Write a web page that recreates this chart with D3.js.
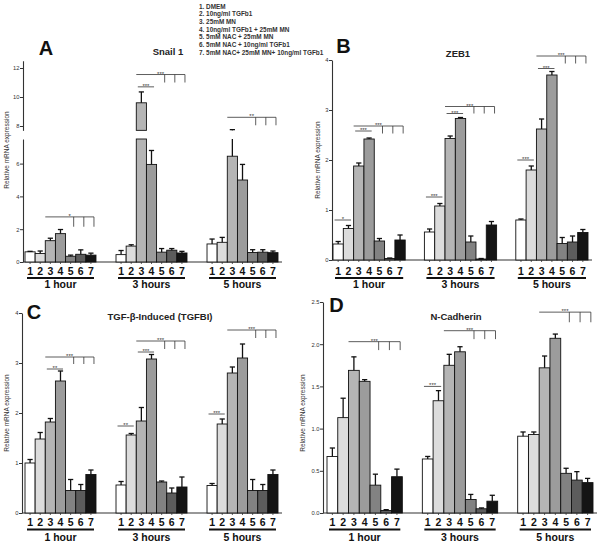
<!DOCTYPE html>
<html>
<head>
<meta charset="utf-8">
<script src="https://cdn.jsdelivr.net/npm/d3@7"></script>
<style>
body { margin: 0; background: #fff; }
</style>
</head>
<body>
<svg id="chart" width="604" height="547"></svg>
<script>
var groups = ["1 hour", "3 hours", "5 hours"];
var treatments = ["1", "2", "3", "4", "5", "6", "7"];
var legendLabels = [
    "1. DMEM",
    "2. 10ng/ml TGFb1",
    "3. 25mM MN",
    "4. 10ng/ml TGFb1 + 25mM MN",
    "5. 5mM NAC + 25mM MN",
    "6. 5mM NAC + 10ng/ml TGFb1",
    "7. 5mM NAC+ 25mM MN+ 10ng/ml TGFb1"
];

// Snail 1 (panel A)
var snailMean = [
    [0.62, 0.52, 1.3, 1.73, 0.35, 0.47, 0.42],
    [0.45, 0.97, 9.6, 5.95, 0.6, 0.72, 0.55],
    [1.1, 1.2, 6.45, 5.0, 0.58, 0.6, 0.57]
];
var snailErr = [
    [0.03, 0.15, 0.15, 0.25, 0.07, 0.27, 0.12],
    [0.25, 0.08, 0.75, 0.85, 0.22, 0.1, 0.1],
    [0.3, 0.3, 1.3, 0.95, 0.17, 0.15, 0.1]
];
var snailSig = [
    {group: 0, from: 3, to: 7, at: 2.75, drop: 2.15, label: "*"},
    {group: 1, from: 3, to: 7, at: 11.55, drop: 11.0, label: "***"},
    {group: 1, from: 3, to: 4, at: 10.7, drop: null, label: "***"},
    {group: 2, from: 3, to: 7, at: 8.6, drop: 8.05, label: "**"}
];

// ZEB1 (panel B)
var zebMean = [
    [0.32, 0.63, 1.88, 2.42, 0.38, 0.03, 0.4],
    [0.56, 1.08, 2.43, 2.83, 0.36, 0.02, 0.7],
    [0.8, 1.8, 2.62, 3.7, 0.33, 0.36, 0.55]
];
var zebErr = [
    [0.05, 0.06, 0.06, 0.02, 0.05, 0.01, 0.1],
    [0.06, 0.05, 0.05, 0.02, 0.12, 0.01, 0.07],
    [0.02, 0.08, 0.2, 0.07, 0.12, 0.12, 0.06]
];
var zebSig = [
    {group: 0, from: 1, to: 2, at: 0.8, drop: null, label: "*"},
    {group: 0, from: 3, to: 4, at: 2.58, drop: null, label: "***"},
    {group: 0, from: 3, to: 7, at: 2.68, drop: 2.53, label: "***"},
    {group: 1, from: 1, to: 2, at: 1.26, drop: null, label: "***"},
    {group: 1, from: 3, to: 4, at: 2.93, drop: null, label: "***"},
    {group: 1, from: 3, to: 7, at: 3.07, drop: 2.93, label: "***"},
    {group: 2, from: 1, to: 2, at: 2.0, drop: null, label: "***"},
    {group: 2, from: 3, to: 4, at: 3.83, drop: null, label: "***"},
    {group: 2, from: 3, to: 7, at: 4.08, drop: 3.93, label: "***"}
];

// TGFBI (panel C)
var tgfbiMean = [
    [1.0, 1.48, 1.82, 2.64, 0.45, 0.45, 0.77],
    [0.56, 1.56, 1.84, 3.08, 0.62, 0.4, 0.52],
    [0.55, 1.78, 2.8, 3.1, 0.45, 0.45, 0.77]
];
var tgfbiErr = [
    [0.07, 0.13, 0.07, 0.2, 0.22, 0.12, 0.09],
    [0.07, 0.03, 0.27, 0.09, 0.02, 0.1, 0.2],
    [0.04, 0.1, 0.12, 0.28, 0.22, 0.12, 0.09]
];
var tgfbiSig = [
    {group: 0, from: 3, to: 4, at: 2.88, drop: null, label: "**"},
    {group: 0, from: 3, to: 7, at: 3.12, drop: 2.98, label: "***"},
    {group: 1, from: 1, to: 2, at: 1.74, drop: null, label: "**"},
    {group: 1, from: 3, to: 4, at: 3.22, drop: null, label: "***"},
    {group: 1, from: 3, to: 7, at: 3.44, drop: 3.28, label: "***"},
    {group: 2, from: 1, to: 2, at: 1.98, drop: null, label: "***"},
    {group: 2, from: 3, to: 7, at: 3.66, drop: 3.5, label: "***"}
];

// N-Cadherin (panel D)
var ncadMean = [
    [0.67, 1.13, 1.69, 1.56, 0.33, 0.03, 0.43],
    [0.64, 1.33, 1.75, 1.91, 0.16, 0.05, 0.14],
    [0.91, 0.93, 1.72, 2.07, 0.47, 0.39, 0.36]
];
var ncadErr = [
    [0.1, 0.23, 0.16, 0.02, 0.13, 0.01, 0.09],
    [0.03, 0.12, 0.13, 0.06, 0.06, 0.01, 0.07],
    [0.05, 0.03, 0.14, 0.05, 0.06, 0.1, 0.05]
];
var ncadSig = [
    {group: 0, from: 3, to: 7, at: 2.03, drop: 1.93, label: "***"},
    {group: 1, from: 1, to: 2, at: 1.5, drop: null, label: "***"},
    {group: 1, from: 3, to: 7, at: 2.16, drop: 2.06, label: "***"},
    {group: 2, from: 3, to: 7, at: 2.38, drop: 2.26, label: "***"}
];

var barColors = ["#ffffff", "#dcdcdc", "#b5b5b5", "#9c9c9c", "#828282", "#5c5c5c", "#141414"];
var font = "'Liberation Sans', Arial, Helvetica, sans-serif";

var svg = d3.select('#chart');
svg.append('rect').attr('width', 604).attr('height', 547).attr('fill', '#fff');

// legend
svg.append('g')
    .selectAll('text')
    .data(legendLabels)
    .enter()
    .append('text')
    .attr('x', 199)
    .attr('y', function(d, i) { return 8.5 + i * 7.7; })
    .text(function(d) { return d; })
    .style('font-family', font)
    .style('font-size', '6.4px')
    .style('font-weight', 'bold')
    .attr('fill', '#333')
;

var panels = [
    {letter: "A", letterX: 46, letterY: 55, title: "Snail 1", titleX: 168, titleY: 55,
     mean: snailMean, err: snailErr, sig: snailSig,
     xRange: [25, 278], pad: 0.22, axisX: 23,
     segments: [
         {domain: [0, 7.5], range: [262, 139], ticks: [0, 2, 4, 6]},
         {domain: [7.7, 12.5], range: [130.35, 60.75], ticks: [8, 10, 12]}
     ],
     fmt: d3.format('d'), yLabelX: 9, yLabelY: 150,
     digitY: 274.5, lineY: 277, groupY: 288},
    {letter: "B", letterX: 343.5, letterY: 53, title: "ZEB1", titleX: 458, titleY: 57,
     mean: zebMean, err: zebErr, sig: zebSig,
     xRange: [333, 588], pad: 0.21, axisX: 332,
     segments: [{domain: [0, 4], range: [260, 60], ticks: [0, 1, 2, 3, 4]}],
     fmt: d3.format('d'), yLabelX: 320, yLabelY: 160,
     digitY: 274.5, lineY: 277, groupY: 288},
    {letter: "C", letterX: 34, letterY: 319, title: "TGF-\u03b2-Induced (TGFBI)", titleX: 160, titleY: 320,
     mean: tgfbiMean, err: tgfbiErr, sig: tgfbiSig,
     xRange: [25, 278], pad: 0.22, axisX: 22,
     segments: [{domain: [0, 4], range: [513, 313], ticks: [0, 1, 2, 3, 4]}],
     fmt: d3.format('d'), yLabelX: 9, yLabelY: 413,
     digitY: 526, lineY: 528.5, groupY: 541},
    {letter: "D", letterX: 336.5, letterY: 312, title: "N-Cadherin", titleX: 456, titleY: 320,
     mean: ncadMean, err: ncadErr, sig: ncadSig,
     xRange: [327, 593], pad: 0.21, axisX: 323,
     segments: [{domain: [0, 2.5], range: [513, 302], ticks: [0, 0.5, 1, 1.5, 2, 2.5]}],
     fmt: d3.format('.1f'), yLabelX: 305, yLabelY: 413,
     digitY: 526, lineY: 528.5, groupY: 541}
];

panels.forEach(drawPanel);

function drawPanel(p) {
    var g = svg.append('g');
    var x0 = d3.scaleBand().domain(groups).range(p.xRange).paddingInner(p.pad);
    var x1 = d3.scaleBand().domain(treatments).range([0, x0.bandwidth()]);
    var bw = x1.bandwidth();

    p.segments.forEach(function(s) {
        s.scale = d3.scaleLinear().domain(s.domain).range(s.range);
    });
    var yOf = function(v) {
        var seg = p.segments[0];
        p.segments.forEach(function(s) { if (v >= s.domain[0]) seg = s; });
        return seg.scale(v);
    };
    var barX = function(gi, bi) { return x0(groups[gi]) + x1(treatments[bi]); };

    // y axes (panel A has a broken axis: one per segment)
    p.segments.forEach(function(s) {
        var ax = g.append('g')
            .attr('transform', 'translate(' + p.axisX + ',0)')
            .call(d3.axisLeft(s.scale).tickValues(s.ticks).tickSize(3).tickSizeOuter(0).tickFormat(p.fmt));
        ax.selectAll('text').style('font-family', font).style('font-size', '5.8px').attr('fill', '#333').attr('x', -3.5);
        ax.selectAll('line').attr('stroke', '#333');
        ax.select('.domain').attr('stroke', '#333').attr('stroke-width', 1.1);
    });

    // x baseline
    var zeroY = yOf(0);
    g.append('line')
        .attr('x1', p.axisX).attr('x2', p.xRange[1] + 4)
        .attr('y1', zeroY).attr('y2', zeroY)
        .attr('stroke', '#333').attr('stroke-width', 1.1);

    p.mean.forEach(function(row, gi) {
        row.forEach(function(m, bi) {
            var x = barX(gi, bi);
            var top = m + p.err[gi][bi];
            var cx = x + bw / 2;
            p.segments.forEach(function(s) {
                var lo = Math.max(0, s.domain[0]), hi = Math.min(m, s.domain[1]);
                if (hi > lo) {
                    g.append('rect')
                        .attr('x', x).attr('width', bw)
                        .attr('y', s.scale(hi)).attr('height', s.scale(lo) - s.scale(hi))
                        .attr('fill', barColors[bi]).attr('stroke', '#111').attr('stroke-width', 0.9);
                }
                var elo = Math.max(m, s.domain[0]), ehi = Math.min(top, s.domain[1]);
                if (ehi > elo) {
                    g.append('line')
                        .attr('x1', cx).attr('x2', cx)
                        .attr('y1', s.scale(elo)).attr('y2', s.scale(ehi))
                        .attr('stroke', '#111').attr('stroke-width', 1.3);
                }
            });
            g.append('line')
                .attr('x1', cx - 2.6).attr('x2', cx + 2.6)
                .attr('y1', yOf(top)).attr('y2', yOf(top))
                .attr('stroke', '#111').attr('stroke-width', 1.3);
            g.append('line')
                .attr('x1', cx).attr('x2', cx)
                .attr('y1', zeroY).attr('y2', zeroY + 2)
                .attr('stroke', '#333').attr('stroke-width', 0.8);
            g.append('text')
                .attr('x', cx).attr('y', p.digitY)
                .attr('text-anchor', 'middle')
                .text(treatments[bi])
                .style('font-family', font).style('font-size', '10.5px').style('font-weight', 'bold')
                .attr('fill', '#111');
        });
        var gx = x0(groups[gi]);
        g.append('rect')
            .attr('x', gx + 2).attr('width', x0.bandwidth() - 4)
            .attr('y', p.lineY).attr('height', 2)
            .attr('fill', '#111');
        g.append('text')
            .attr('x', gx + x0.bandwidth() / 2).attr('y', p.groupY)
            .attr('text-anchor', 'middle')
            .text(groups[gi])
            .style('font-family', font).style('font-size', '10.5px').style('font-weight', 'bold')
            .attr('fill', '#111');
    });

    // significance brackets
    p.sig.forEach(function(s) {
        var ly = yOf(s.at);
        var xa, xb;
        if (s.drop === null) {
            xa = barX(s.group, s.from - 1) + bw * 0.15;
            xb = barX(s.group, s.to - 1) + bw * 0.75;
        } else {
            xa = barX(s.group, s.from - 1);
            xb = barX(s.group, s.to - 1) + bw * 0.8;
        }
        g.append('line')
            .attr('x1', xa).attr('x2', xb).attr('y1', ly).attr('y2', ly)
            .attr('stroke', '#333').attr('stroke-width', 0.8);
        if (s.drop !== null) {
            [5, 6, 7].forEach(function(b) {
                var tx = barX(s.group, b - 1) + bw * 0.8;
                g.append('line')
                    .attr('x1', tx).attr('x2', tx).attr('y1', ly).attr('y2', yOf(s.drop))
                    .attr('stroke', '#333').attr('stroke-width', 0.8);
            });
        }
        g.append('text')
            .attr('x', (xa + xb) / 2).attr('y', ly + 1)
            .attr('text-anchor', 'middle')
            .text(s.label)
            .style('font-family', font).style('font-size', '6px')
            .attr('fill', '#333');
    });

    g.append('text')
        .attr('x', p.letterX).attr('y', p.letterY)
        .attr('text-anchor', 'middle')
        .text(p.letter)
        .style('font-family', font).style('font-size', '20px').style('font-weight', 'bold')
        .attr('fill', '#111');
    g.append('text')
        .attr('x', p.titleX).attr('y', p.titleY)
        .attr('text-anchor', 'middle')
        .text(p.title)
        .style('font-family', font).style('font-size', '9.5px').style('font-weight', 'bold')
        .attr('fill', '#222');
    g.append('text')
        .attr('transform', 'translate(' + p.yLabelX + ',' + p.yLabelY + ') rotate(-90)')
        .attr('text-anchor', 'middle')
        .text('Relative mRNA expression')
        .style('font-family', font).style('font-size', '6.5px')
        .attr('fill', '#333');
}
</script>
</body>
</html>
